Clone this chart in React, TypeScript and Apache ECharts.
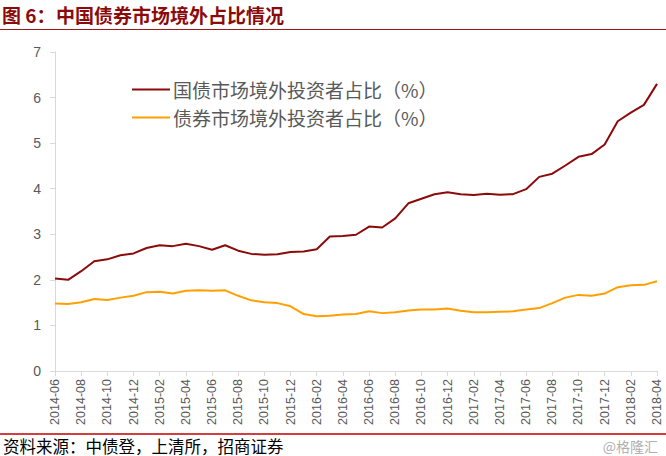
import React, { useEffect, useRef } from "react";
import * as echarts from "echarts";

const categories = [
  "2014-06","2014-07","2014-08","2014-09","2014-10","2014-11","2014-12",
  "2015-01","2015-02","2015-03","2015-04","2015-05","2015-06","2015-07","2015-08","2015-09","2015-10","2015-11","2015-12",
  "2016-01","2016-02","2016-03","2016-04","2016-05","2016-06","2016-07","2016-08","2016-09","2016-10","2016-11","2016-12",
  "2017-01","2017-02","2017-03","2017-04","2017-05","2017-06","2017-07","2017-08","2017-09","2017-10","2017-11","2017-12",
  "2018-01","2018-02","2018-03","2018-04",
];

const govBondShare = [
  2.03, 2.0, 2.19, 2.41, 2.45, 2.54, 2.58,
  2.7, 2.76, 2.74, 2.79, 2.74, 2.66, 2.76, 2.64, 2.57, 2.55, 2.56, 2.61,
  2.62, 2.67, 2.95, 2.96, 2.99, 3.17, 3.15, 3.35, 3.68, 3.78, 3.88, 3.92,
  3.88, 3.86, 3.89, 3.87, 3.88, 3.99, 4.26, 4.33, 4.51, 4.7, 4.76, 4.97,
  5.48, 5.67, 5.84, 6.3,
];

const bondMarketShare = [
  1.48, 1.47, 1.51, 1.58, 1.56, 1.61, 1.65,
  1.73, 1.74, 1.7, 1.76, 1.77, 1.76, 1.77, 1.65, 1.55, 1.51, 1.49, 1.42,
  1.25, 1.2, 1.21, 1.24, 1.25, 1.31, 1.27, 1.29, 1.33, 1.35, 1.35, 1.37,
  1.32, 1.29, 1.29, 1.3, 1.31, 1.35, 1.38, 1.49, 1.61, 1.67, 1.65, 1.7,
  1.84, 1.88, 1.89, 1.97,
];

const seriesNames = ["国债市场境外投资者占比（%）", "债券市场境外投资者占比（%）"];
const titlePrefix = "图 6：";
const titleText = "中国债券市场境外占比情况";
const sourceText = "资料来源：中债登，上清所，招商证券";
const watermark = "@格隆汇";

export default function App() {
  const ref = useRef<HTMLDivElement>(null);
  useEffect(() => {
    if (!ref.current) return;
    const chart = echarts.init(ref.current, null, { renderer: "svg" });
    chart.setOption({
      animation: false,
      backgroundColor: "#ffffff",
      grid: { left: 55, right: 9, top: 52, bottom: 85 },
      legend: {
        orient: "vertical",
        left: 132,
        top: 80,
        padding: 0,
        itemWidth: 38,
        itemHeight: 10,
        itemGap: 9,
        icon: "path://M0,4 L38,4 L38,6 L0,6 Z",
        textStyle: {
          fontSize: 19,
          color: "#595959",
          fontFamily: "Noto Sans CJK SC",
          padding: [0, 0, 0, -2],
        },
        data: seriesNames,
      },
      xAxis: {
        type: "category",
        data: categories,
        boundaryGap: false,
        axisLine: { lineStyle: { color: "#d9d9d9", width: 1 } },
        axisTick: { show: true, interval: 1, length: 5, lineStyle: { color: "#d9d9d9" } },
        axisLabel: {
          interval: 1,
          rotate: 90,
          fontSize: 12.5,
          color: "#595959",
          fontFamily: "Liberation Sans",
          margin: 8,
        },
        splitLine: { show: false },
      },
      yAxis: {
        type: "value",
        min: 0,
        max: 7,
        interval: 1,
        axisLine: { show: true, lineStyle: { color: "#d9d9d9", width: 1 } },
        axisTick: { show: true, length: 5, lineStyle: { color: "#d9d9d9" } },
        axisLabel: { fontSize: 14, color: "#595959", fontFamily: "Liberation Sans", margin: 14 },
        splitLine: { show: false },
      },
      series: [
        {
          name: seriesNames[0],
          type: "line",
          data: govBondShare,
          symbol: "none",
          lineStyle: { color: "#8B0A0A", width: 2 },
          itemStyle: { color: "#8B0A0A" },
        },
        {
          name: seriesNames[1],
          type: "line",
          data: bondMarketShare,
          symbol: "none",
          lineStyle: { color: "#FFA000", width: 2 },
          itemStyle: { color: "#FFA000" },
        },
      ],
      graphic: [
        {
          type: "text",
          left: 2,
          top: 4,
          style: {
            text: titlePrefix,
            fontSize: 19,
            lineHeight: 20,
            fontWeight: "bold",
            fill: "#8B0A0A",
            fontFamily: "Noto Sans CJK SC",
          },
        },
        {
          type: "text",
          left: 56,
          top: 4,
          style: {
            text: titleText,
            fontSize: 19,
            lineHeight: 20,
            fontWeight: "bold",
            fill: "#8B0A0A",
            fontFamily: "Noto Sans CJK SC",
          },
        },
        {
          type: "line",
          shape: { x1: 0, y1: 29.5, x2: 666, y2: 29.5 },
          style: { stroke: "#9B1B1B", lineWidth: 1 },
        },
        {
          type: "line",
          shape: { x1: 0, y1: 434, x2: 666, y2: 434 },
          style: { stroke: "#C00000", lineWidth: 1.5 },
        },
        {
          type: "text",
          left: 3,
          top: 437,
          style: {
            text: sourceText,
            fontSize: 16.5,
            lineHeight: 17,
            fill: "#000000",
            fontFamily: "Noto Sans CJK SC",
          },
        },
        {
          type: "text",
          right: 8,
          top: 438,
          style: {
            text: watermark,
            fontSize: 14,
            lineHeight: 15,
            fill: "#b0b0b0",
            fontFamily: "Noto Sans CJK SC",
          },
        },
      ],
    });
    return () => chart.dispose();
  }, []);
  return (
    <div
      ref={ref}
      style={{ position: "fixed", left: 0, top: 0, width: 666, height: 456 }}
    />
  );
}
